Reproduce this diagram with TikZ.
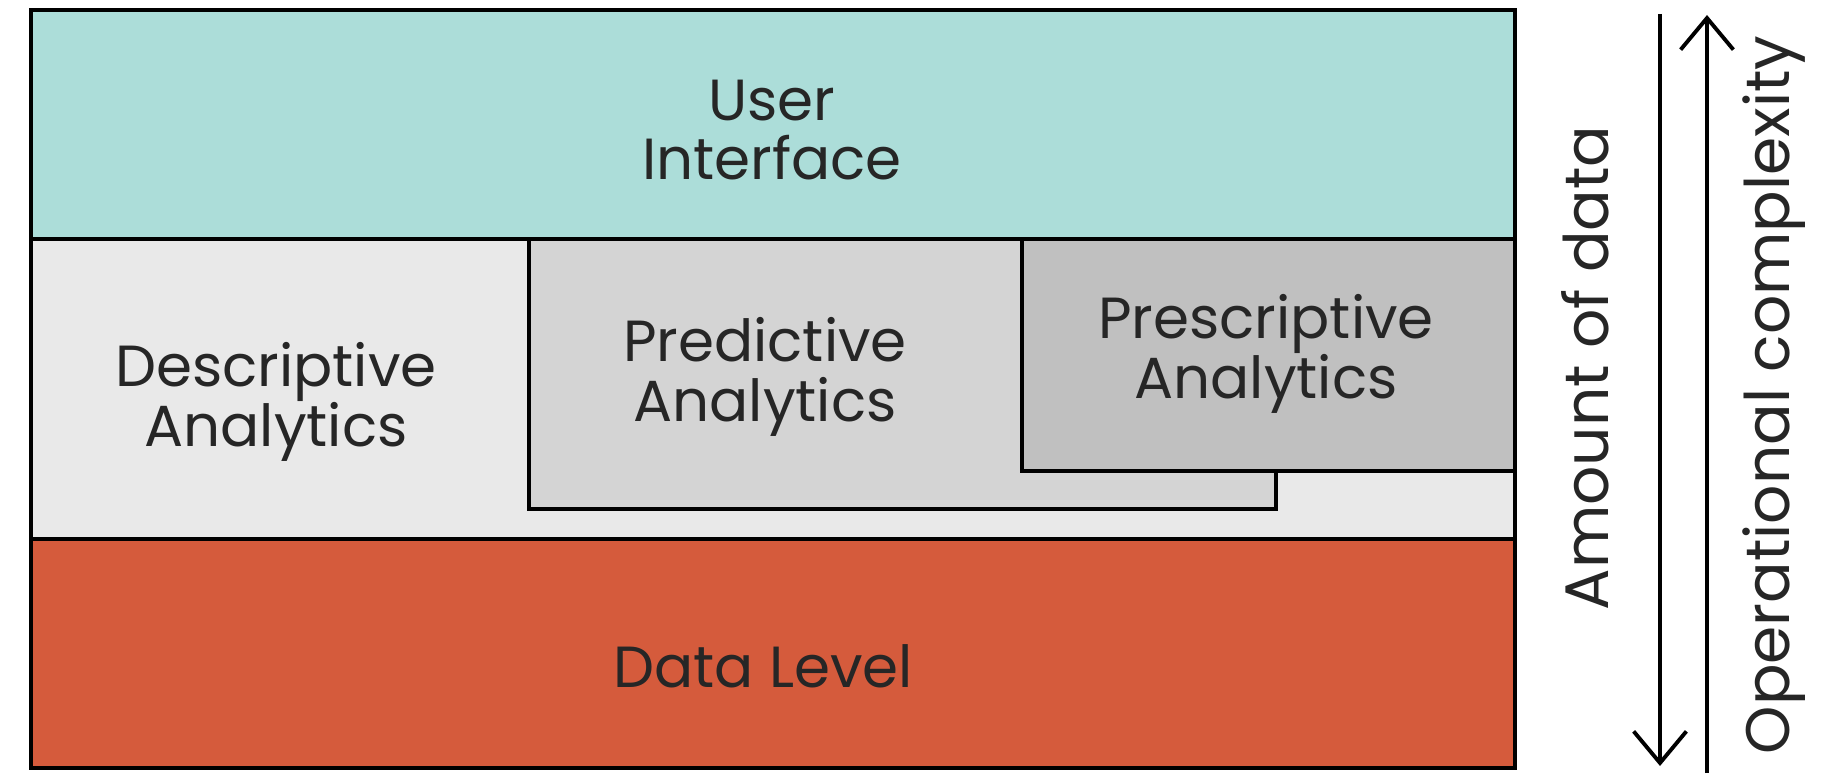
\documentclass[tikz,border=0pt]{standalone}
\usepackage{fontspec}
\setmainfont{Poppins}
\usetikzlibrary{positioning,arrows.meta}
\definecolor{uiteal}{RGB}{172,221,217}
\definecolor{descgray}{RGB}{233,233,233}
\definecolor{predgray}{RGB}{212,212,212}
\definecolor{presgray}{RGB}{192,192,192}
\definecolor{datared}{RGB}{213,91,60}
\definecolor{txtgray}{RGB}{38,38,38}
\tikzset{
layer/.style={draw=black, line width=1.2pt, anchor=south west, inner sep=0pt},
lbl/.style={align=center, text=txtgray, font=\fontsize{16.5}{17}\selectfont},
sidelbl/.style={text=txtgray, rotate=90, font=\fontsize{17.5}{18}\selectfont},
scalearrow/.style={line width=1.1pt, ->}
}

\begin{document}
\begin{tikzpicture}[>={Straight Barb[length=9pt,width=15pt]},scale=1.00]
\useasboundingbox (0,0) rectangle (18.21,7.73);

\node[layer, fill=uiteal, minimum width=14.84cm, minimum height=2.29cm] (ui) at (0.29,5.32) {};
\node[layer, fill=descgray, minimum width=14.84cm, minimum height=3.00cm] (analytics) at (0.29,2.32) {};
\node[layer, fill=datared, minimum width=14.84cm, minimum height=2.29cm] (data) at (0.29,0.03) {};
\node[layer, fill=predgray, minimum width=7.47cm, minimum height=2.70cm] (pred) at (5.27,2.62) {};
\node[layer, fill=presgray, minimum width=4.93cm, minimum height=2.32cm] (pres) at (10.20,3.00) {};

\node[lbl] (uitext) at (7.72,6.43) {User\\Interface};
\node[lbl] (desctext) at (2.76,3.71) {Descriptive\\Analytics};
\node[lbl] (predtext) at (7.65,3.96) {Predictive\\Analytics};
\node[lbl] (prestext) at (12.66,4.19) {Prescriptive\\Analytics};
\node[lbl] (datatext) at (7.63,1.07) {Data Level};

\coordinate (dtop) at (16.60,7.59);
\coordinate (dbot) at (16.60,0.07);
\coordinate (ubot) at (17.07,0.00);
\coordinate (utop) at (17.07,7.58);
\draw[scalearrow] (dtop) -- (dbot);
\draw[scalearrow] (ubot) -- (utop);

\node[sidelbl] (amount) at (15.85,4.05) {Amount of data};
\node[sidelbl] (complexity) at (17.74,3.78) {Operational complexity};
\end{tikzpicture}
\end{document}
